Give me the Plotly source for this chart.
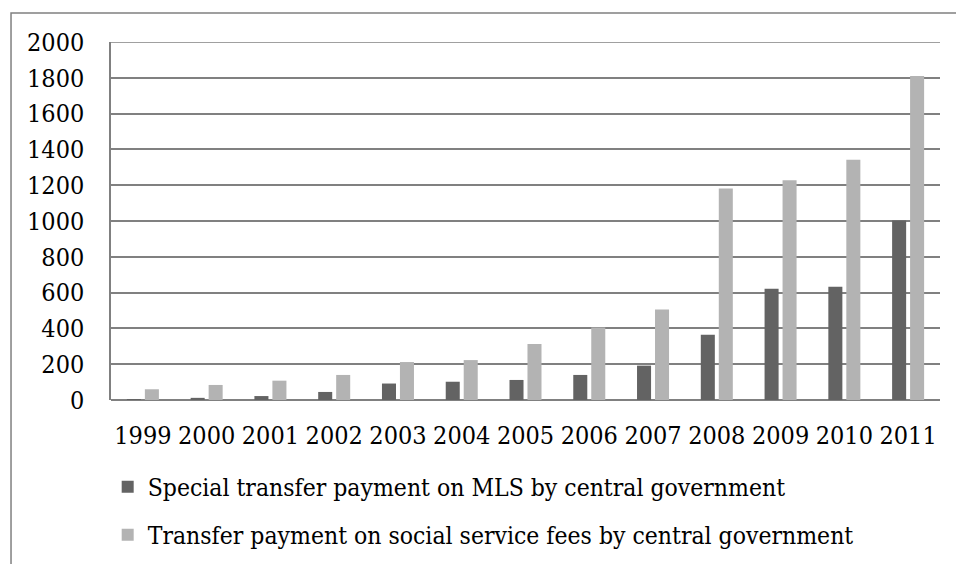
import plotly.graph_objects as go

# Yearly transfer payments by central government
years = ["1999", "2000", "2001", "2002", "2003", "2004", "2005",
         "2006", "2007", "2008", "2009", "2010", "2011"]
mls_special = [2, 12, 22, 45, 92, 102, 112, 140, 192, 365, 622, 632, 1003]
social_service = [60, 84, 108, 140, 212, 223, 313, 405, 505, 1182, 1227, 1342, 1810]

series_names = [
    "Special transfer payment on MLS by central government",
    "Transfer payment on social service fees by central government",
]
y_ticks = list(range(0, 2001, 200))
y_max = 2000

FONT = "DejaVu Serif Condensed, Liberation Serif, serif"
GRID = "#808080"

fig = go.Figure()
fig.add_trace(go.Bar(x=years, y=mls_special, name=series_names[0],
                     marker=dict(color="#636363", line=dict(width=0)),
                     legendgroup="a"))
fig.add_trace(go.Bar(x=years, y=social_service, name=series_names[1],
                     marker=dict(color="#b3b3b3", line=dict(width=0)),
                     legendgroup="b"))

fig.update_layout(
    width=956, height=564,
    margin=dict(l=111, r=16, t=42, b=164, autoexpand=False),
    paper_bgcolor="white", plot_bgcolor="white",
    font=dict(family=FONT, size=25, color="#000000"),
    barmode="group", bargap=0.436, bargroupgap=0.22,
    showlegend=True,
    legend=dict(x=-0.004, xanchor="left", y=-0.18, yanchor="top",
                orientation="v", tracegroupgap=13,
                font=dict(family=FONT, size=24.5, color="#000000"),
                bgcolor="rgba(0,0,0,0)"),
    xaxis=dict(showgrid=False, showline=False, ticks="",
               ticklabelstandoff=18, tickfont=dict(size=25)),
    yaxis=dict(range=[0, y_max], tickvals=y_ticks, showgrid=True,
               gridcolor=GRID, gridwidth=1.5, zeroline=True,
               zerolinecolor=GRID, zerolinewidth=1.5,
               showline=True, linecolor=GRID, linewidth=1.5,
               ticks="", ticklabelstandoff=20, tickfont=dict(size=25)),
    shapes=[
        # outer chart frame
        dict(type="rect", xref="paper", yref="paper",
             x0=-0.1206, x1=1.2, y0=-0.6, y1=1.081,
             line=dict(color=GRID, width=1.5), layer="below"),
        # top gridline (plotly skips gridlines at the range edge)
        dict(type="line", xref="paper", yref="y",
             x0=0, x1=1, y0=y_max, y1=y_max,
             line=dict(color=GRID, width=1.5), layer="below"),
    ],
)

fig.write_html("out.html")
